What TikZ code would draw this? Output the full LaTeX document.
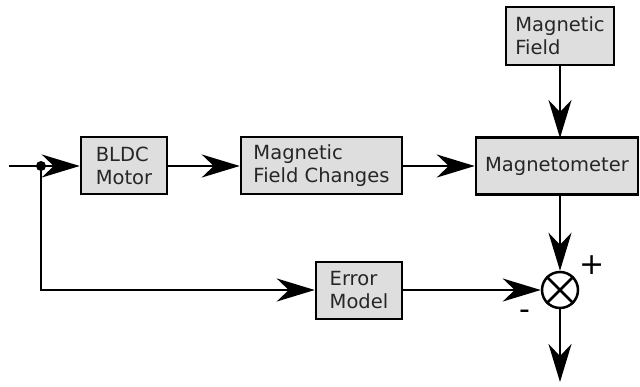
\documentclass[tikz,border=0pt]{standalone}
\usepackage{fontspec}
\setmainfont{DejaVu Sans}
\usetikzlibrary{arrows.meta}
\definecolor{boxfill}{HTML}{DEDEDE}
\definecolor{txt}{HTML}{262626}
\begin{document}
\begin{tikzpicture}[x=1pt,y=-1pt,
  blk/.style={draw=black, line width=2.5pt, fill=boxfill, align=left, inner sep=0pt,
    font=\fontsize{19.5}{23}\selectfont, text=txt},
  conn/.style={line width=2.5pt, -{Stealth[length=38pt,width=23pt,inset=12pt]}},
  ln/.style={line width=2.5pt},
  sgn/.style={font=\fontsize{30}{32}\selectfont, text=black}]
\useasboundingbox (0,0) rectangle (640,386);
\node[blk, minimum width=86pt, minimum height=57pt] (bldc) at (124,165.5) {BLDC\\Motor};
\node[blk, minimum width=161pt, minimum height=57pt] (mfc) at (321.5,165.5) {Magnetic\\Field Changes};
\node[blk, minimum width=162pt, minimum height=57pt] (mag) at (557,166) {Magnetometer};
\node[blk, minimum width=108pt, minimum height=58pt] (mf) at (560,36) {Magnetic\\Field};
\node[blk, minimum width=86pt, minimum height=57pt] (err) at (359,290.5) {Error\\Model};
\node[draw=black, line width=2.5pt, circle, minimum size=36pt, inner sep=0pt] (sum) at (560,290) {};
\draw[ln] (sum.north west) -- (sum.south east);
\draw[ln] (sum.north east) -- (sum.south west);
\coordinate (in) at (9,166);
\coordinate (jn) at (41,166);
\coordinate (dn) at (41,290);
\coordinate (out) at (560,382);
\coordinate (magb) at (560,195);
\coordinate (mft) at (560,65);
\coordinate (magt) at (560,138);
\draw[conn] (in) -- (bldc.west |- in);
\fill (jn) circle (5pt);
\draw[conn] (bldc.east |- in) -- (mfc.west |- in);
\draw[conn] (mfc.east |- in) -- (mag.west |- in);
\draw[conn] (mft) -- (magt);
\draw[conn] (magb) -- (sum.north);
\draw[conn] (jn) -- (dn) -- (err.west |- dn);
\draw[conn] (err.east |- sum) -- (sum.west);
\draw[conn] (sum.south) -- (out);
\node[sgn] (plus) at (592,265) {+};
\node[sgn] (minus) at (525,315) {-};
\end{tikzpicture}
\end{document}
